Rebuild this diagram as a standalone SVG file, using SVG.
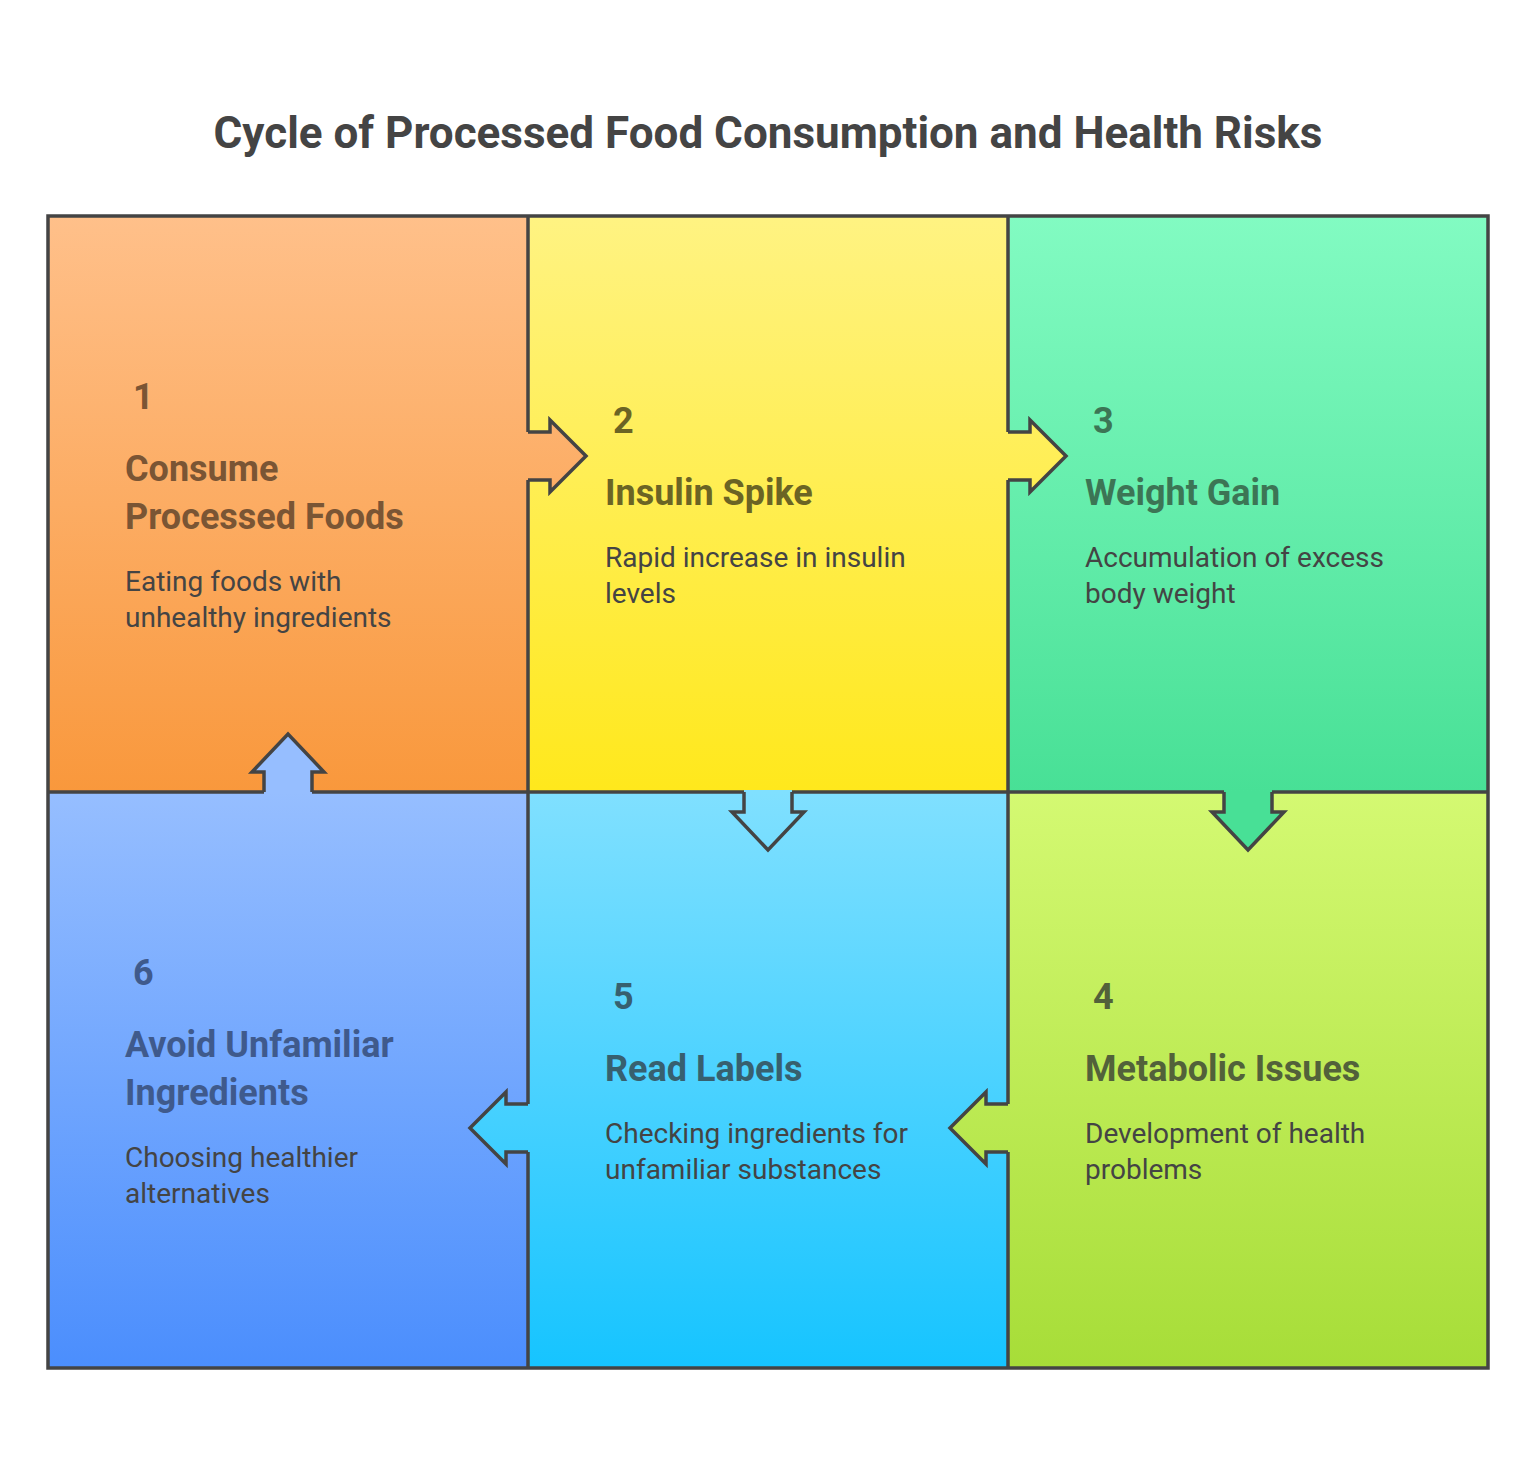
<svg xmlns="http://www.w3.org/2000/svg" width="1536" height="1465" viewBox="0 0 1536 1465">
<style>
.t{font-family:Roboto,"Liberation Sans",sans-serif;font-weight:700;font-size:44px;fill:#444}
.n{font-family:Roboto,"Liberation Sans",sans-serif;font-weight:700;font-size:36px}
.d{font-family:Roboto,"Liberation Sans",sans-serif;font-size:28px;fill:#444}
.b{stroke:#444;stroke-width:3.5;fill:none;stroke-linejoin:miter}
</style>
<defs>
<linearGradient id="g1" gradientUnits="userSpaceOnUse" x1="0" y1="216" x2="0" y2="792"><stop offset="0" stop-color="#ffc08a"/><stop offset="1" stop-color="#f9983c"/></linearGradient>
<linearGradient id="g2" gradientUnits="userSpaceOnUse" x1="0" y1="216" x2="0" y2="792"><stop offset="0" stop-color="#fff382"/><stop offset="1" stop-color="#ffe81c"/></linearGradient>
<linearGradient id="g3" gradientUnits="userSpaceOnUse" x1="0" y1="216" x2="0" y2="792"><stop offset="0" stop-color="#82fbc2"/><stop offset="1" stop-color="#48e096"/></linearGradient>
<linearGradient id="g4" gradientUnits="userSpaceOnUse" x1="0" y1="792" x2="0" y2="1368"><stop offset="0" stop-color="#d4f972"/><stop offset="1" stop-color="#a7dd38"/></linearGradient>
<linearGradient id="g5" gradientUnits="userSpaceOnUse" x1="0" y1="792" x2="0" y2="1368"><stop offset="0" stop-color="#80e0ff"/><stop offset="1" stop-color="#16c4ff"/></linearGradient>
<linearGradient id="g6" gradientUnits="userSpaceOnUse" x1="0" y1="792" x2="0" y2="1368"><stop offset="0" stop-color="#96beff"/><stop offset="1" stop-color="#4b8efd"/></linearGradient>
</defs>
<rect width="1536" height="1465" fill="#fff"/>
<text class="t" x="768" y="148" text-anchor="middle">Cycle of Processed Food Consumption and Health Risks</text>
<g id="cells">
<rect x="48" y="216" width="480" height="576" fill="url(#g1)"/>
<rect x="528" y="216" width="480" height="576" fill="url(#g2)"/>
<rect x="1008" y="216" width="480" height="576" fill="url(#g3)"/>
<rect x="1008" y="792" width="480" height="576" fill="url(#g4)"/>
<rect x="528" y="792" width="480" height="576" fill="url(#g5)"/>
<rect x="48" y="792" width="480" height="576" fill="url(#g6)"/>
<path class="b" d="M48 216H1488V1368H48Z M528 216V1368 M1008 216V1368 M48 792H1488"/>
</g>
<g id="connectors">
<polygon fill="url(#g1)" points="524,432 550,432 550,420 586,456 550,492 550,480 524,480"/>
<polyline class="b" points="528,432 550,432 550,420 586,456 550,492 550,480 528,480"/>
<polygon fill="url(#g2)" points="1004,432 1030,432 1030,420 1066,456 1030,492 1030,480 1004,480"/>
<polyline class="b" points="1008,432 1030,432 1030,420 1066,456 1030,492 1030,480 1008,480"/>
<polygon fill="url(#g3)" points="1224,788 1224,812 1212,812 1248,850 1284,812 1272,812 1272,788"/>
<polyline class="b" points="1224,792 1224,812 1212,812 1248,850 1284,812 1272,812 1272,792"/>
<polygon fill="url(#g5)" points="744,790 744,812 732,812 768,850 804,812 792,812 792,790"/>
<polyline class="b" points="744,792 744,812 732,812 768,850 804,812 792,812 792,792"/>
<polygon fill="url(#g4)" points="1012,1104 986,1104 986,1092 950,1128 986,1164 986,1152 1012,1152"/>
<polyline class="b" points="1008,1104 986,1104 986,1092 950,1128 986,1164 986,1152 1008,1152"/>
<polygon fill="url(#g5)" points="532,1104 506,1104 506,1092 470,1128 506,1164 506,1152 532,1152"/>
<polyline class="b" points="528,1104 506,1104 506,1092 470,1128 506,1164 506,1152 528,1152"/>
<polygon fill="url(#g6)" points="264,796 264,772 252,772 288,734 324,772 312,772 312,796"/>
<polyline class="b" points="264,792 264,772 252,772 288,734 324,772 312,772 312,792"/>
</g>
<g id="node1" fill="#7a5534">
<text class="n" x="133" y="409">1</text>
<text class="n" x="125" y="481">Consume</text>
<text class="n" x="125" y="529">Processed Foods</text>
<text class="d" x="125" y="591">Eating foods with</text>
<text class="d" x="125" y="627">unhealthy ingredients</text>
</g>
<g id="node2" fill="#6b6424">
<text class="n" x="613" y="433">2</text>
<text class="n" x="605" y="505">Insulin Spike</text>
<text class="d" x="605" y="567">Rapid increase in insulin</text>
<text class="d" x="605" y="603">levels</text>
</g>
<g id="node3" fill="#3c7555">
<text class="n" x="1093" y="433">3</text>
<text class="n" x="1085" y="505">Weight Gain</text>
<text class="d" x="1085" y="567">Accumulation of excess</text>
<text class="d" x="1085" y="603">body weight</text>
</g>
<g id="node4" fill="#52613a">
<text class="n" x="1093" y="1009">4</text>
<text class="n" x="1085" y="1081">Metabolic Issues</text>
<text class="d" x="1085" y="1143">Development of health</text>
<text class="d" x="1085" y="1179">problems</text>
</g>
<g id="node5" fill="#37606f">
<text class="n" x="613" y="1009">5</text>
<text class="n" x="605" y="1081">Read Labels</text>
<text class="d" x="605" y="1143">Checking ingredients for</text>
<text class="d" x="605" y="1179">unfamiliar substances</text>
</g>
<g id="node6" fill="#3f5a8c">
<text class="n" x="133" y="985">6</text>
<text class="n" x="125" y="1057">Avoid Unfamiliar</text>
<text class="n" x="125" y="1105">Ingredients</text>
<text class="d" x="125" y="1167">Choosing healthier</text>
<text class="d" x="125" y="1203">alternatives</text>
</g>
</svg>
